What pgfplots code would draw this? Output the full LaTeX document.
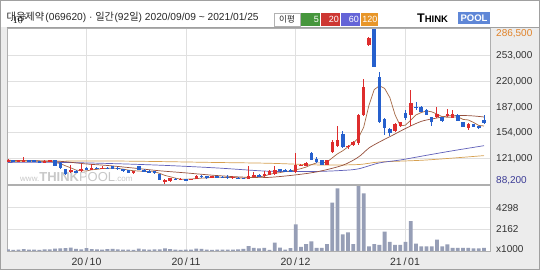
\documentclass[border=0pt]{standalone}
\usepackage{pgfplots}
\pgfplotsset{compat=1.18}
\usepackage{pgfplotstable}
\usepackage{fontspec}
\setmainfont{Liberation Sans}
\newfontfamily\kr{Noto Sans CJK KR}
\definecolor{upc}{RGB}{222,45,45}
\definecolor{dnc}{RGB}{38,96,205}
\definecolor{ma5c}{RGB}{165,105,70}
\definecolor{ma20c}{RGB}{150,80,60}
\definecolor{ma60c}{RGB}{95,95,185}
\definecolor{ma120c}{RGB}{215,160,80}
\definecolor{volc}{RGB}{150,158,182}
\definecolor{gridc}{RGB}{224,224,224}
\definecolor{bgc}{RGB}{236,236,236}
\definecolor{outc}{RGB}{160,160,160}
\definecolor{axc}{RGB}{175,175,175}
\definecolor{titc}{RGB}{40,40,40}
\definecolor{lg5}{RGB}{70,150,60}
\definecolor{lg20}{RGB}{205,55,50}
\definecolor{lg60}{RGB}{100,100,215}
\definecolor{lg120}{RGB}{232,150,40}
\definecolor{tpblue}{RGB}{95,135,215}
\definecolor{wmc}{RGB}{200,200,200}
\definecolor{maxc}{RGB}{225,130,40}
\definecolor{minc}{RGB}{60,60,150}
\definecolor{labc}{RGB}{50,50,50}

\pgfplotstableread{
i o h l c
0 117000 120200 116300 119500
1 118900 119500 117000 117600
2 117600 118900 117000 118300
3 117600 122700 117000 118900
4 118900 119500 117000 117600
5 118300 118900 115700 116300
6 117000 117600 115100 115700
7 116300 118300 115700 117600
8 117000 118900 116300 118300
9 118900 119500 110600 111200
10 115100 115700 108000 108700
11 107400 108000 100300 101000
12 103500 112500 102300 105500
13 104800 105500 102300 103500
14 104800 113800 103500 107400
15 108700 109300 106100 106800
16 106800 114400 106100 108700
17 109300 109900 107400 108000
18 108000 110600 107400 109300
19 109300 109900 107400 108000
20 110600 111200 107400 108000
21 109300 109900 106100 106800
22 106800 107400 103500 104200
23 105500 106100 102300 102900
24 102300 104800 101600 104200
25 110600 111200 105500 106100
26 106100 106800 103500 104200
27 104800 105500 102300 102900
28 104200 104800 101600 102300
29 101000 101600 92700 93300
30 91400 94000 88200 93300
31 91400 96500 90800 95900
32 95200 95900 93300 94000
33 94000 95900 93300 95200
34 94600 95200 92700 93300
35 94000 95200 93300 94600
36 94600 99100 94000 98400
37 98400 99100 96500 97200
38 97800 98400 95200 95900
39 96500 98400 95900 97800
40 97800 98400 95900 96500
41 97200 97800 95500 96100
42 97200 99700 95200 95900
43 95900 97800 95200 97200
44 96500 97200 94600 95200
45 95900 96500 94000 94600
46 94600 111200 94000 98400
47 97200 103500 96500 100300
48 100300 101000 97200 97800
49 97800 104200 97200 101000
50 99700 106100 99100 104800
51 101000 111200 100300 106100
52 107400 108000 103500 104200
53 106100 106800 103500 104200
54 106100 106800 104200 104800
55 103500 127800 102900 112500
56 111900 114400 110600 113100
57 111200 115700 110600 115100
58 127800 129100 118300 118900
59 120200 122700 115100 116300
60 118900 119500 111900 112500
61 112500 119500 111900 118900
62 129100 144500 127800 141900
63 136200 162400 134900 144500
64 152200 156000 133600 135500
65 135900 138700 133000 137400
66 138100 143200 137400 142300
67 140600 177700 138100 176500
68 176500 222500 175200 212300
69 266000 275600 265300 275000
70 286500 286500 237200 237800
71 225000 231400 166200 167500
72 171300 172600 150900 159800
73 157900 159800 149600 153400
74 156600 166200 155300 164900
75 162400 167500 161100 166900
76 179000 182800 170100 172600
77 176500 208400 162400 191800
78 187300 193100 182800 186000
79 186700 188000 180300 180900
80 182800 183500 175800 176500
81 173900 174500 162400 167500
82 173300 186700 172600 177700
83 173900 174500 168100 168800
84 175200 184100 174500 177100
85 172600 182800 172000 177700
86 176500 177100 168800 169400
87 166900 167500 160500 161100
88 159800 166200 157300 164900
89 164300 164900 160500 161100
90 162400 163000 158500 159200
91 170100 176500 164900 165600
}\ohlc

\pgfplotsset{
 candle/.style n args={2}{draw=none, mark=none, forget plot,
   error bars/.cd, y dir=both, y explicit, error mark=none,
   error bar style={line width=#2, draw=#1, solid}, /pgfplots/.cd}
}

\begin{document}
\begin{tikzpicture}
\path[use as bounding box] (0,0) rectangle (540pt,270pt);
\begin{scope}[x=1pt,y=-1pt,yshift=270pt]
 \fill[bgc] (0,0) rectangle (540,270);
 \fill[white] (1,1) rectangle (539,27.5);
 \draw[outc] (0.5,0.5) rectangle (539.5,269.5);
 \fill[white] (7,28) rectangle (490,184);
 \fill[white] (7,185) rectangle (490,251);
 \draw[outc] (490,27.5) -- (490,252);
 \draw[outc] (6.5,27.5) -- (539.5,27.5);
 % title
 \node[anchor=west,inner sep=0,font=\kr\fontsize{10.2}{11}\selectfont,text=titc] (ta) at (6.5,17) {대웅제약};
 \node[anchor=west,inner sep=0,font=\fontsize{10.2}{11}\selectfont,text=titc] at ([xshift=0.8pt]ta.east) {(069620) · {\kr 일간}\kern0.5pt(92{\kr 일}) 2020/09/09 \textasciitilde{} 2021/01/25};
 % legend of moving averages
 \draw[fill=white, draw=gray!60] (274.5,13) rectangle (300,26);
 \node[font=\kr\fontsize{8.5}{9}\selectfont, inner sep=0, text=titc] at (287,19.5) {이평};
 \fill[lg5] (301,13) rectangle (320,26);
 \node[anchor=east, text=white, font=\fontsize{9}{9}\selectfont, inner sep=0] at (319,19.5) {5};
 \fill[lg20] (321,13) rectangle (340,26);
 \node[anchor=east, text=white, font=\fontsize{9}{9}\selectfont, inner sep=0] at (339,19.5) {20};
 \fill[lg60] (341,13) rectangle (360,26);
 \node[anchor=east, text=white, font=\fontsize{9}{9}\selectfont, inner sep=0] at (359,19.5) {60};
 \fill[lg120] (360.5,13) rectangle (378,26);
 \node[anchor=east, text=white, font=\fontsize{9}{9}\selectfont, inner sep=0] at (377.5,19.5) {120};
 % logo
 \node[anchor=west, inner sep=0, font=\bfseries\fontsize{12.5}{12.5}\selectfont] at (417,18) {T\fontsize{9.5}{9.5}\selectfont HINK};
 \fill[tpblue] (458,12.5) rectangle (490,24);
 \node[text=white, inner sep=0, font=\bfseries\fontsize{9.5}{9.5}\selectfont] at (474,18.5) {POOL};
 % watermark
 \node[anchor=west, text=wmc, inner sep=0] at (20,177) {\fontsize{8}{8}\selectfont www.\fontsize{13}{13}\selectfont\bfseries THINK\mdseries POOL\fontsize{8}{8}\selectfont .com};
 % right labels
 \node[anchor=west, inner sep=0, text=maxc, font=\fontsize{10}{10}\selectfont] at (496,34) {286,500};
 \node[anchor=west, inner sep=0, text=labc, font=\fontsize{10}{10}\selectfont] at (496,56) {253,000};
 \node[anchor=west, inner sep=0, text=labc, font=\fontsize{10}{10}\selectfont] at (496,82) {220,000};
 \node[anchor=west, inner sep=0, text=labc, font=\fontsize{10}{10}\selectfont] at (496,107.5) {187,000};
 \node[anchor=west, inner sep=0, text=labc, font=\fontsize{10}{10}\selectfont] at (496,133) {154,000};
 \node[anchor=west, inner sep=0, text=labc, font=\fontsize{10}{10}\selectfont] at (496,158.5) {121,000};
 \node[anchor=west, inner sep=0, text=minc, font=\fontsize{10}{10}\selectfont] at (496,181) {88,200};
 \node[anchor=west, inner sep=0, text=labc, font=\fontsize{10}{10}\selectfont] at (496,208) {4298};
 \node[anchor=west, inner sep=0, text=labc, font=\fontsize{10}{10}\selectfont] at (496,229.5) {2162};
 \node[anchor=west, inner sep=0, text=labc, font=\fontsize{10}{10}\selectfont] at (496,249.5) {x1000};
 % dates
 \node[text=labc, inner sep=0, font=\fontsize{10.5}{10.5}\selectfont] at (86.5,262) {20\,/\,10};
 \node[text=labc, inner sep=0, font=\fontsize{10.5}{10.5}\selectfont] at (186,262) {20\,/\,11};
 \node[text=labc, inner sep=0, font=\fontsize{10.5}{10.5}\selectfont] at (295.5,262) {20\,/\,12};
 \node[text=labc, inner sep=0, font=\fontsize{10.5}{10.5}\selectfont] at (405,262) {21\,/\,01};
\end{scope}

\begin{axis}[at={(7pt,86pt)}, anchor=south west, scale only axis,
  width=483pt, height=156pt,
  xmin=-0.19, xmax=92.15, ymin=88200, ymax=287700,
  axis line style={draw=axc}, tick style={draw=none},
  xtick={15,34,55,76}, xticklabels={},
  ytick={121000,154000,187000,220000,253000}, yticklabels={},
  grid=major, grid style={gridc, line width=0.6pt}]
 % moving averages
 \addplot[ma120c, line width=0.7pt, smooth] coordinates {(0,117000)(20,117600)(40,115700)(50,114700)(60,112500)(67,113100)(71,116300)(80,118900)(91,124500)};
 \addplot[ma60c, line width=0.7pt, smooth] coordinates {(0,115800)(10,115800)(20,114300)(30,112000)(40,108700)(50,104500)(59,104300)(64,105600)(67,107600)(71,115200)(75,118900)(80,124900)(85,130700)(91,137200)};
 \addplot[ma20c, line width=0.7pt, smooth] coordinates {(0,118500)(5,117900)(10,117200)(15,113800)(19,111900)(24,108600)(29,105100)(34,102400)(39,99500)(44,97300)(49,96400)(54,99100)(59,103700)(64,112200)(67,122700)(69,134200)(71,141900)(74,152200)(76,159200)(79,168300)(82,172600)(84,175200)(87,175800)(89,175200)(91,173900)};
 \addplot[ma5c, line width=0.7pt] coordinates {(0,118300)(1,118100)(2,118100)(3,118400)(4,118400)(5,117700)(6,117400)(7,117200)(8,117100)(9,115800)(10,114300)(11,111400)(12,108900)(13,106000)(14,105200)(15,104800)(16,106400)(17,106900)(18,108000)(19,108200)(20,108400)(21,108000)(22,107300)(23,106000)(24,105200)(25,104800)(26,104300)(27,104100)(28,103900)(29,101800)(30,99200)(31,97500)(32,95700)(33,94300)(34,94300)(35,94600)(36,95100)(37,95700)(38,95900)(39,96800)(40,97200)(41,96600)(42,96400)(43,96600)(44,96100)(45,95700)(46,96300)(47,97200)(48,97300)(49,98400)(50,100500)(51,102000)(52,102800)(53,104100)(54,104800)(55,106400)(56,107800)(57,109900)(58,112900)(59,115200)(60,115200)(61,116300)(62,121700)(63,126800)(64,130700)(65,135700)(66,140300)(67,147200)(68,160800)(69,188700)(70,208800)(71,213800)(72,210500)(73,198700)(74,176700)(75,162500)(76,163500)(77,169900)(78,176500)(79,179600)(80,181600)(81,180500)(82,177700)(83,174300)(84,173500)(85,173800)(86,174100)(87,170800)(88,170100)(89,166900)(90,163100)(91,162400)};
 % wicks
 \addplot[restrict expr to domain={\thisrow{c}-\thisrow{o}}{0:1000000}, candle={upc}{0.9pt}]
   table[x=i, y expr={(\thisrow{h}+\thisrow{l})/2}, y error expr={(\thisrow{h}-\thisrow{l})/2}] {\ohlc};
 \addplot[restrict expr to domain={\thisrow{c}-\thisrow{o}}{-1000000:-1}, candle={dnc}{0.9pt}]
   table[x=i, y expr={(\thisrow{h}+\thisrow{l})/2}, y error expr={(\thisrow{h}-\thisrow{l})/2}] {\ohlc};
 % bodies
 \addplot[restrict expr to domain={\thisrow{c}-\thisrow{o}}{0:1000000}, candle={upc}{3.6pt}]
   table[x=i, y expr={(\thisrow{o}+\thisrow{c})/2}, y error expr={max(abs(\thisrow{c}-\thisrow{o})/2,400)}] {\ohlc};
 \addplot[restrict expr to domain={\thisrow{c}-\thisrow{o}}{-1000000:-1}, candle={dnc}{3.6pt}]
   table[x=i, y expr={(\thisrow{o}+\thisrow{c})/2}, y error expr={max(abs(\thisrow{c}-\thisrow{o})/2,400)}] {\ohlc};
\end{axis}

\begin{axis}[at={(7pt,19pt)}, anchor=south west, scale only axis,
  width=483pt, height=66pt,
  xmin=-0.19, xmax=92.15, ymin=0, ymax=6450,
  axis line style={draw=axc}, tick style={draw=none},
  xtick={15,34,55,76}, xticklabels={},
  ytick={2162,4298}, yticklabels={},
  grid=major, grid style={gridc, line width=0.6pt}]
 \addplot[ybar, bar width=3.8pt, fill=volc, draw=none] coordinates {
 (0,150)(1,120)(2,130)(3,180)(4,140)(5,130)(6,120)(7,160)(8,170)(9,230)(10,250)(11,280)(12,320)(13,200)(14,160)(15,270)(16,180)(17,150)(18,140)(19,190)(20,200)(21,150)(22,130)(23,140)(24,120)(25,220)(26,150)(27,130)(28,150)(29,170)(30,250)(31,180)(32,130)(33,120)(34,140)(35,130)(36,220)(37,200)(38,130)(39,120)(40,140)(41,130)(42,140)(43,130)(44,150)(45,200)(46,470)(47,300)(48,250)(49,300)(50,120)(51,820)(52,330)(53,140)(54,280)(55,2610)(56,400)(57,670)(58,950)(59,300)(60,300)(61,670)(62,4720)(63,6125)(64,1630)(65,1830)(66,670)(67,6350)(68,5640)(69,440)(70,670)(71,610)(72,1890)(73,880)(74,610)(75,610)(76,880)(77,2930)(78,720)(79,440)(80,440)(81,440)(82,1120)(83,440)(84,650)(85,300)(86,300)(87,300)(88,300)(89,250)(90,250)(91,300)};
\end{axis}
\end{tikzpicture}
\end{document}
